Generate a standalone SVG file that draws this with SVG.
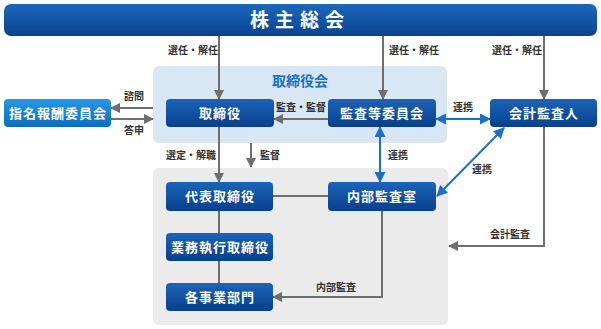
<svg xmlns="http://www.w3.org/2000/svg" width="601" height="329" viewBox="0 0 601 329">
<defs>
<linearGradient id="gNode" x1="0" y1="0" x2="0" y2="1">
<stop offset="0" stop-color="#1b64b8"/>
<stop offset="1" stop-color="#083f8c"/>
</linearGradient>
<linearGradient id="gLight" x1="0" y1="0" x2="0" y2="1">
<stop offset="0" stop-color="#2598e6"/>
<stop offset="1" stop-color="#0a6dc2"/>
</linearGradient>
<linearGradient id="gBanner" x1="0" y1="0" x2="0" y2="1">
<stop offset="0" stop-color="#1d68bc"/>
<stop offset="1" stop-color="#0a4390"/>
</linearGradient>
<marker id="ag" markerWidth="10" markerHeight="10" refX="9" refY="5" orient="auto" markerUnits="userSpaceOnUse">
<path d="M0,0 L10,5 L0,10 Z" fill="#6e6e6e"/>
</marker>
<marker id="ab" markerWidth="11" markerHeight="11" refX="10" refY="5.5" orient="auto-start-reverse" markerUnits="userSpaceOnUse">
<path d="M0,0 L11,5.5 L0,11 Z" fill="#1a6fc6"/>
</marker>
</defs>
<style>
.node{fill:url(#gNode);}
.light{fill:url(#gLight);}
.nt{font-family:"Noto Sans CJK JP","Noto Sans CJK SC",sans-serif;font-size:13px;font-weight:bold;fill:#ffffff;text-anchor:middle;letter-spacing:1px;}
.lbl{font-family:"Noto Sans CJK JP","Noto Sans CJK SC",sans-serif;font-size:10px;font-weight:bold;fill:#333333;}
.g{stroke:#6e6e6e;stroke-width:2;fill:none;}
.b{stroke:#1a6fc6;stroke-width:2;fill:none;}
</style>
<rect x="153" y="66" width="294" height="77" rx="6" fill="#d9e7f5"/>
<rect x="153" y="168" width="295" height="157" rx="6" fill="#ebebeb"/>
<text x="300" y="86" font-family="Noto Sans CJK JP,sans-serif" font-size="14" font-weight="bold" fill="#1a6fc6" text-anchor="middle">取締役会</text>
<g id="banner">
<rect x="4" y="4" width="593" height="32" rx="7" fill="url(#gBanner)"/>
<text x="300" y="27" font-family="Noto Sans CJK JP,sans-serif" font-size="19" font-weight="bold" fill="#ffffff" text-anchor="middle" letter-spacing="6">株主総会</text>
</g>
<g id="connectors">
<line class="g" x1="219" y1="36" x2="219" y2="99" marker-end="url(#ag)"/>
<line class="g" x1="383" y1="36" x2="383" y2="99" marker-end="url(#ag)"/>
<line class="g" x1="544" y1="36" x2="544" y2="99" marker-end="url(#ag)"/>
<line class="g" x1="153" y1="108" x2="111" y2="108" marker-end="url(#ag)"/>
<line class="g" x1="111" y1="119" x2="153" y2="119" marker-end="url(#ag)"/>
<line class="g" x1="328" y1="119" x2="274" y2="119" marker-end="url(#ag)"/>
<line class="g" x1="219" y1="127" x2="219" y2="182" marker-end="url(#ag)"/>
<line class="g" x1="251" y1="143" x2="251" y2="167" marker-end="url(#ag)"/>
<line class="g" x1="273" y1="196" x2="328" y2="196"/>
<line class="g" x1="219" y1="211" x2="219" y2="233"/>
<line class="g" x1="219" y1="261" x2="219" y2="283"/>
<polyline class="g" points="382,211 382,297 273,297" marker-end="url(#ag)"/>
<polyline class="g" points="544,127 544,246 449,246" marker-end="url(#ag)"/>
<line class="b" x1="436" y1="119" x2="490" y2="119" marker-start="url(#ab)" marker-end="url(#ab)"/>
<line class="b" x1="380" y1="127" x2="380" y2="182" marker-start="url(#ab)" marker-end="url(#ab)"/>
<line class="b" x1="504" y1="128" x2="437" y2="196" marker-start="url(#ab)" marker-end="url(#ab)"/>
<text class="lbl" x="168" y="54">選任・解任</text>
<text class="lbl" x="389" y="54">選任・解任</text>
<text class="lbl" x="492" y="54">選任・解任</text>
<text class="lbl" x="124" y="100">諮問</text>
<text class="lbl" x="124" y="134">答申</text>
<text class="lbl" x="276" y="111">監査・監督</text>
<text class="lbl" x="453" y="111">連携</text>
<text class="lbl" x="166" y="159">選定・解職</text>
<text class="lbl" x="260" y="159">監督</text>
<text class="lbl" x="388" y="159">連携</text>
<text class="lbl" x="472" y="173">連携</text>
<text class="lbl" x="316" y="291">内部監査</text>
<text class="lbl" x="490" y="238">会計監査</text>
</g>
<g id="n-shimei"><rect class="light" x="4" y="99" width="107" height="28" rx="4"/><text class="nt" x="58" y="118" letter-spacing="0.5">指名報酬委員会</text></g>
<g id="n-torishimariyaku"><rect class="node" x="166" y="99" width="108" height="28" rx="4"/><text class="nt" x="220" y="118">取締役</text></g>
<g id="n-kansa"><rect class="node" x="328" y="99" width="108" height="28" rx="4"/><text class="nt" x="382" y="118">監査等委員会</text></g>
<g id="n-kaikei"><rect class="node" x="490" y="99" width="107" height="28" rx="4"/><text class="nt" x="544" y="118">会計監査人</text></g>
<g id="n-daihyo"><rect class="node" x="166" y="182" width="107" height="29" rx="4"/><text class="nt" x="220" y="201">代表取締役</text></g>
<g id="n-naibu"><rect class="node" x="328" y="182" width="108" height="29" rx="4"/><text class="nt" x="382" y="201">内部監査室</text></g>
<g id="n-gyomu"><rect class="node" x="166" y="233" width="107" height="28" rx="4"/><text class="nt" x="220" y="252">業務執行取締役</text></g>
<g id="n-kaku"><rect class="node" x="166" y="283" width="107" height="28" rx="4"/><text class="nt" x="220" y="302">各事業部門</text></g>
</svg>
